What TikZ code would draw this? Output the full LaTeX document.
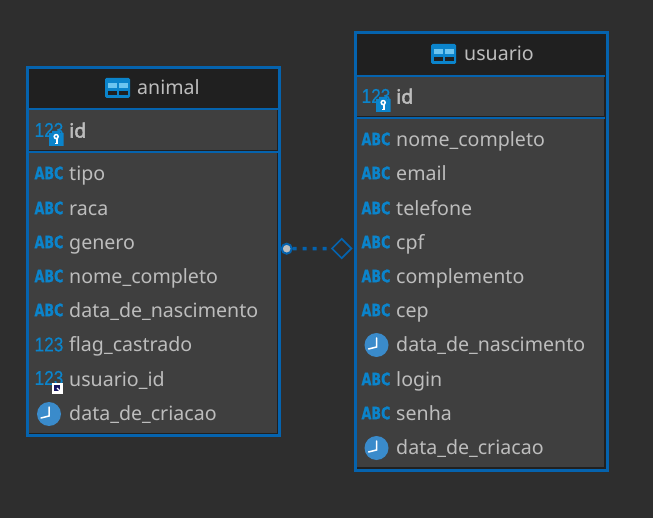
\documentclass[tikz,border=0pt]{standalone}
\usepackage{fontspec}
\setmainfont{Noto Sans}
\newfontfamily\idfont[FakeBold=2.2]{Noto Sans}
\newfontfamily\abcfont[FakeBold=1.2]{DejaVu Sans Bold}
\newfontfamily\numfont[FakeBold=0.4]{Liberation Sans}
\usetikzlibrary{shapes.geometric}
\definecolor{bgc}{HTML}{2E2E2E}
\definecolor{bluec}{HTML}{0563AE}
\definecolor{headc}{HTML}{202020}
\definecolor{rowc}{HTML}{3F3F3F}
\definecolor{textc}{HTML}{BDBDBD}
\definecolor{iconc}{HTML}{0B84CB}
\definecolor{lightc}{HTML}{6CC5F0}
\definecolor{clockc}{HTML}{3A8BCB}
\tikzset{
  x=1pt,y=-1pt,
  tablebox/.style={draw=bluec,line width=3pt,fill=headc,rectangle,inner sep=0pt,outer sep=0pt},
  rowlabel/.style={anchor=base west,inner sep=0pt,yshift=-0.6pt,text=textc,font=\fontsize{19.6}{22}\selectfont},
  idlabel/.style={rowlabel,font=\idfont\fontsize{19.6}{22}\selectfont},
  titlelabel/.style={rowlabel},
  abcicon/.style={anchor=center,inner sep=0pt,text=iconc,xscale=.75,font=\abcfont\fontsize{17}{17}\selectfont},
  numicon/.style={anchor=center,inner sep=0pt,text=iconc,xscale=.86,font=\numfont\fontsize{20}{20}\selectfont},
  pkend/.style={diamond,draw=bluec,line width=1.6pt,fill=bgc,minimum width=20pt,minimum height=20pt,inner sep=0pt},
  fkend/.style={circle,draw=bluec,line width=2pt,fill=textc,minimum size=10pt,inner sep=0pt},
  relation/.style={draw=bluec,line width=3.5pt,dash pattern=on 4pt off 6pt},
}
\newcommand{\tblicon}[2]{%
  \begin{scope}[shift={(#1,#2)}]
    \fill[iconc,rounded corners=1.5pt] (0,0) rectangle (25,20);
    \fill[lightc] (3,5) rectangle (12,10);
    \fill[lightc] (13.5,5) rectangle (23,10);
    \fill[headc] (3,13) rectangle (12,17);
    \fill[headc] (13.5,13) rectangle (23,17);
  \end{scope}}
\newcommand{\keybadge}[2]{%
  \begin{scope}[shift={(#1,#2)}]
    \fill[iconc] (0,2) -- (3,2) -- (3,0) -- (11,0) -- (11,2) -- (14.5,2) -- (14.5,15) -- (0,15) -- cycle;
    \draw[white,line width=1.5pt] (7.2,5.6) circle (2);
    \draw[white,line width=1.6pt] (8.2,7.5) -- (8.2,12.5) -- (5.8,12.5);
  \end{scope}}
\newcommand{\linkbadge}[2]{%
  \begin{scope}[shift={(#1,#2)}]
    \fill[white] (0,0) rectangle (11,10.5);
    \fill[headc!70!blue] (2,2) rectangle (8,8);
    \draw[white,line width=1.2pt] (5,5) -- (8.5,8.5);
  \end{scope}}
\newcommand{\clockicon}[2]{%
  \begin{scope}[shift={(#1,#2)}]
    \fill[clockc] (0,0) circle (12);
    \draw[white,line width=1.5pt,line cap=round] (0,-7) -- (0,2) -- (-8,4);
  \end{scope}}
\begin{document}
\begin{tikzpicture}
\useasboundingbox (0,0) rectangle (653,518);
\fill[bgc] (0,0) rectangle (653,518);
% ---- animal table
\node[tablebox,minimum width=252pt,minimum height=368pt] (animal) at (153.4,251.7) {};
\fill[bluec] (29,108) rectangle (278,110);
\fill[headc] (29,110) rectangle (278,434);
\fill[rowc] (29,110) rectangle (277,150);
\fill[bluec] (29,151) rectangle (278,153);
\fill[rowc] (29,153) rectangle (277,433);
\tblicon{105}{78}
\node[titlelabel] (animaltitle) at (137,94) {animal};
\node[numicon] (aidicon) at (49,130) {123};
\keybadge{49}{131}
\node[idlabel] (aid) at (69,137) {id};
\foreach \yy/\nm/\tx in {173/tipo/tipo,208/raca/raca,242/genero/genero,276/nomecompleto/nome\_completo,310/nasc/data\_de\_nascimento}{
  \node[abcicon] (aicon\nm) at (49,\yy) {ABC};
  \pgfmathsetmacro{\bl}{\yy+7}
  \node[rowlabel] (a\nm) at (69,\bl) {\tx};
}
\node[numicon] (aiconflag) at (49,344.5) {123};
\node[rowlabel] (aflag) at (69,351) {flag\_castrado};
\node[numicon] (aiconuser) at (49,378) {123};
\linkbadge{52}{383}
\node[rowlabel] (auser) at (69,385.5) {usuario\_id};
\clockicon{49}{414}
\node[rowlabel] (acriacao) at (69,420) {data\_de\_criacao};
% ---- usuario table
\node[tablebox,minimum width=252pt,minimum height=438pt] (usuario) at (481.5,251.5) {};
\fill[bluec] (357,75) rectangle (605,77);
\fill[headc] (357,77) rectangle (606,469);
\fill[rowc] (357,77) rectangle (604,116);
\fill[bluec] (357,117) rectangle (605,119);
\fill[rowc] (357,119) rectangle (604,467);
\tblicon{431}{44}
\node[titlelabel] (usuariotitle) at (464,60) {usuario};
\node[numicon] (uidicon) at (376,96) {123};
\keybadge{376}{97}
\node[idlabel] (uid) at (396,103) {id};
\foreach \yy/\nm/\tx in {139/nomecompleto/nome\_completo,173/email/email,208/telefone/telefone,242/cpf/cpf,276/complemento/complemento,310/cep/cep,379/login/login,413/senha/senha}{
  \node[abcicon] (uicon\nm) at (376,\yy) {ABC};
  \pgfmathsetmacro{\bl}{\yy+7}
  \node[rowlabel] (u\nm) at (396,\bl) {\tx};
}
\clockicon{376.5}{345}
\node[rowlabel] (unasc) at (396,351) {data\_de\_nascimento};
\clockicon{376.5}{448}
\node[rowlabel] (ucriacao) at (396,454) {data\_de\_criacao};
% ---- relation
\node[fkend] (fk) at (286.7,248.7) {};
\node[pkend] (pk) at (341.7,248.5) {};
\draw[relation] (fk) -- (pk);
\end{tikzpicture}
\end{document}
